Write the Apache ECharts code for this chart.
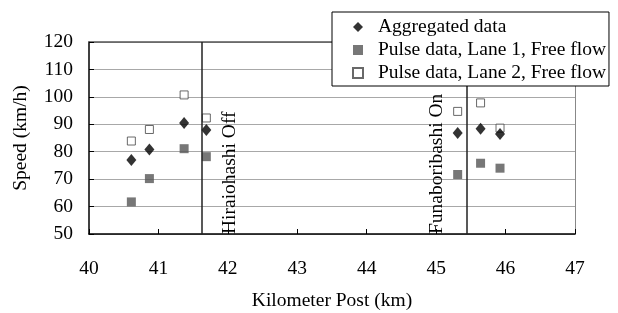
<!DOCTYPE html>
<html>
<head>
<meta charset="utf-8">
<script src="https://cdn.jsdelivr.net/npm/echarts@6/dist/echarts.min.js"></script>
<style>
  html, body { margin: 0; padding: 0; background: #fff; }
  #chart { width: 618px; height: 313px; }
</style>
</head>
<body>
<div id="chart"></div>
<script>
  // kilometer posts of the detectors
  let kmPosts = [40.61, 40.87, 41.37, 41.69, 45.31, 45.64, 45.92]
  let aggregated = [77.0, 80.8, 90.5, 87.9, 86.8, 88.4, 86.5]
  let lane1Free = [61.7, 70.2, 81.1, 78.2, 71.7, 75.8, 74.0]
  let lane2Free = [83.9, 88.1, 100.7, 92.3, 94.7, 97.8, 88.6]
  // ramps
  let rampPosts = [41.63, 45.44]
  let rampNames = ['Hiraiohashi Off', 'Funaboribashi On']

  let seriesNames = ['Aggregated data', 'Pulse data, Lane 1, Free flow', 'Pulse data, Lane 2, Free flow']
  let fontFamily = '"Liberation Serif", "Times New Roman", serif'
  let fontSize = 19.5

  function pairs(xs, ys) {
    return xs.map((x, i) => [x, ys[i]])
  }

  let chart = echarts.init(document.getElementById('chart'))
  let option = {
    animation: false,
    textStyle: {fontFamily: fontFamily, color: '#000'},
    grid: {left: 89, right: 43, top: 42, bottom: 79, outerBoundsMode: 'none'},
    legend: {
      data: seriesNames,
      orient: 'vertical',
      left: 332,
      top: 12,
      padding: [5, 3, 3, 20],
      itemWidth: 10,
      itemHeight: 10,
      itemGap: 3,
      borderColor: '#000',
      borderWidth: 1,
      backgroundColor: '#fff',
      z: 10,
      textStyle: {fontFamily: fontFamily, fontSize: fontSize, lineHeight: 19, color: '#000', padding: [0, 0, 0, 10]}
    },
    xAxis: [{
      type: 'value',
      min: 40,
      max: 47,
      interval: 1,
      name: 'Kilometer Post (km)',
      nameLocation: 'middle',
      nameGap: 57,
      nameTextStyle: {fontSize: fontSize, color: '#000'},
      axisLine: {onZero: false, lineStyle: {color: '#000', width: 1.5}},
      axisTick: {inside: true, length: 5, lineStyle: {color: '#000'}},
      axisLabel: {fontSize: fontSize, color: '#000', margin: 25},
      splitLine: {show: false}
    }, {
      type: 'value',
      position: 'top',
      min: 40,
      max: 47,
      axisLine: {onZero: false, lineStyle: {color: '#555', width: 1.5}},
      axisTick: {show: false},
      axisLabel: {show: false},
      splitLine: {show: false}
    }],
    yAxis: [{
      type: 'value',
      min: 50,
      max: 120,
      interval: 10,
      name: 'Speed (km/h)',
      nameLocation: 'middle',
      nameGap: 58,
      nameTextStyle: {fontSize: fontSize, color: '#000'},
      axisLine: {show: true, onZero: false, lineStyle: {color: '#000', width: 1.5}},
      axisTick: {show: true, inside: true, length: 5, lineStyle: {color: '#000'}},
      axisLabel: {fontSize: fontSize, color: '#000', margin: 16},
      splitLine: {lineStyle: {color: '#a8a8a8', width: 1}}
    }, {
      type: 'value',
      position: 'right',
      min: 50,
      max: 120,
      axisLine: {show: true, onZero: false, lineStyle: {color: '#888', width: 1}},
      axisTick: {show: false},
      axisLabel: {show: false},
      splitLine: {show: false}
    }],
    series: [
      {
        name: seriesNames[1],
        type: 'scatter',
        symbol: 'rect',
        symbolSize: 9,
        itemStyle: {color: '#555'},
        data: pairs(kmPosts, lane1Free)
      },
      {
        name: seriesNames[2],
        type: 'scatter',
        symbol: 'rect',
        symbolSize: 8,
        itemStyle: {color: '#fff', borderColor: '#444', borderWidth: 1},
        data: pairs(kmPosts, lane2Free)
      },
      {
        name: seriesNames[0],
        type: 'scatter',
        symbol: 'diamond',
        symbolSize: [10, 12],
        itemStyle: {color: '#000'},
        data: pairs(kmPosts, aggregated),
        markLine: {
          silent: true,
          symbol: 'none',
          animation: false,
          lineStyle: {color: '#222', width: 1.5, type: 'solid'},
          data: [
            {
              xAxis: rampPosts[0],
              label: {
                formatter: rampNames[0],
                position: 'insideStartBottom',
                distance: [0, 18],
                fontSize: fontSize,
                color: '#000',
                fontFamily: fontFamily
              }
            },
            {
              xAxis: rampPosts[1],
              label: {
                formatter: rampNames[1],
                position: 'insideStartTop',
                distance: [0, 20],
                fontSize: fontSize,
                color: '#000',
                fontFamily: fontFamily
              }
            }
          ]
        }
      }
    ]
  }
  chart.setOption(option)
</script>
</body>
</html>
